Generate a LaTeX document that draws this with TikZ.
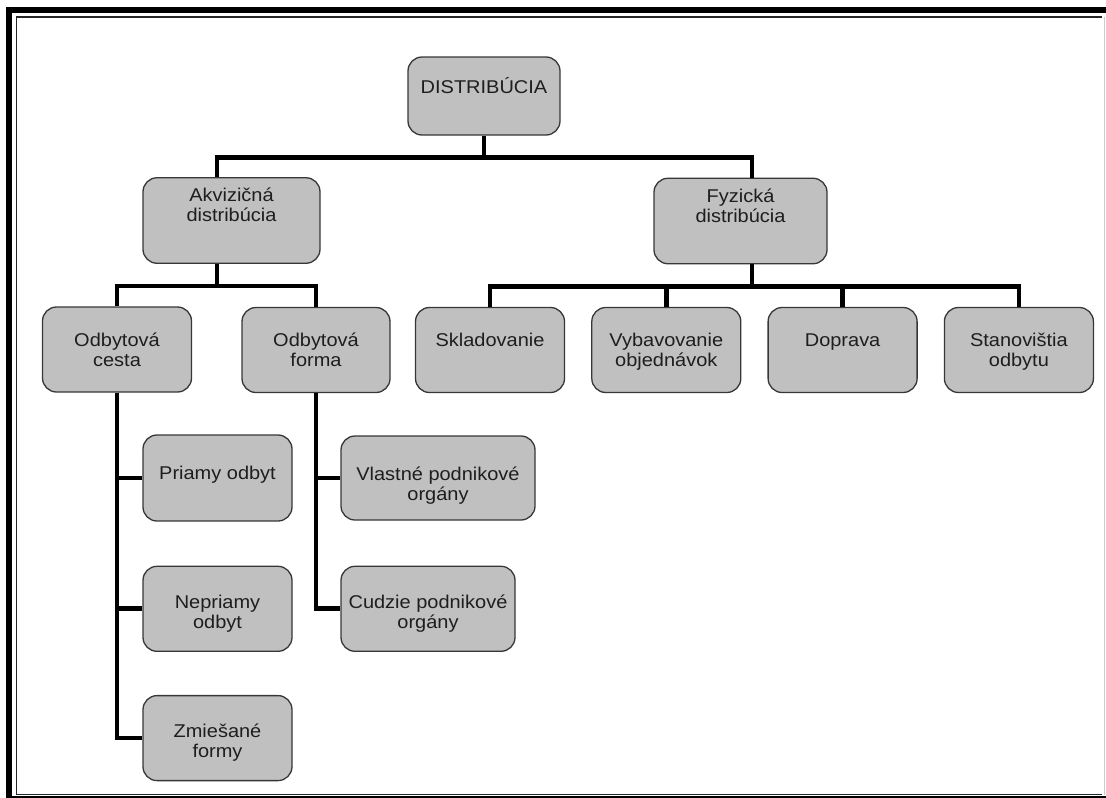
\documentclass[tikz,border=0pt]{standalone}
\usepackage{fontspec}
\setmainfont[FakeStretch=1.08]{Liberation Sans}
\usepackage{xcolor}
\usepackage{tikz}
\usetikzlibrary{positioning, calc}
\definecolor{boxgray}{RGB}{192, 192, 192}
\definecolor{edgegray}{RGB}{55, 55, 55}
\definecolor{textgray}{RGB}{30, 30, 30}
\newcommand{\twoline}[2]{\begin{tabular}[t]{@{}c@{}}#1\\#2\end{tabular}}

\begin{document}
\begin{tikzpicture}[
    x=1pt, y=1pt,
    node distance=26pt,
    itembox/.style={rectangle, rounded corners=14pt, draw=edgegray, line width=1.3pt, fill=boxgray, text=textgray, font=\fontsize{18.5}{20}\selectfont, inner xsep=4pt, inner ysep=0pt, minimum width=149pt, text height=39pt, text depth=46pt},
    distbox/.style={itembox, minimum width=152pt, text height=36pt, text depth=42pt},
    groupbox/.style={itembox, text height=24pt, text depth=61.5pt},
    leafbox/.style={itembox, text height=42pt, text depth=43pt},
    conn/.style={line width=4.7pt, black}
]

    \useasboundingbox (0,0) rectangle (1106,-798);
    \clip (0,0) rectangle (1106,-798);
    \draw[line width=6.5pt] (1106,-10) -- (9,-10) -- (9,-799.5) -- (1106,-799.5);
    \draw[line width=1.5pt, black!85] (1102,-17) -- (16.5,-17) -- (16.5,-794.5) -- (1102,-794.5);
    \draw[line width=0.8pt, black!20] (1104,-17) -- (1104,-794.5);

    \node[distbox] (dist) at (484,-96) {DISTRIBÚCIA};
    \node[groupbox, minimum width=177pt] (akv) at (231.5,-220.5) {\twoline{Akvizičná}{distribúcia}};
    \node[groupbox, minimum width=173pt] (fyz) at (740.5,-221) {\twoline{Fyzická}{distribúcia}};

    \node[itembox] (cesta) at (117,-349.5) {\twoline{Odbytová}{cesta}};
    \node[itembox, minimum width=148pt] (forma) at (316,-350) {\twoline{Odbytová}{forma}};
    \node[itembox] (sklad) at (490,-350) {Skladovanie};
    \node[itembox, right=of sklad] (vybav) {\twoline{Vybavovanie}{objednávok}};
    \node[itembox, right=of vybav] (doprava) {Doprava};
    \node[itembox, right=of doprava] (stanov) {\twoline{Stanovištia}{odbytu}};

    \node[leafbox, text height=44pt, text depth=42pt] (priamy) at (217.5,-478) {Priamy odbyt};
    \node[leafbox, below=44pt of priamy] (nepriamy) {\twoline{Nepriamy}{odbyt}};
    \node[leafbox, below=43pt of nepriamy] (zmies) {\twoline{Zmiešané}{formy}};
    \node[leafbox, minimum width=194pt, text height=44pt, text depth=40pt] (vlastne) at (438,-478) {\twoline{Vlastné podnikové}{orgány}};
    \node[leafbox, minimum width=174pt, below right=45pt and 0pt of vlastne.south west] (cudzie) {\twoline{Cudzie podnikové}{orgány}};

    \draw[conn] (dist.south) -- ++(0,-22) -| ([xshift=-14.5pt]akv.north);
    \draw[conn] (dist.south) -- ++(0,-22) -| ([xshift=11.5pt]fyz.north);
    \draw[conn] ([xshift=-14.5pt]akv.south) -- ++(0,-22) -| (cesta.north);
    \draw[conn] ([xshift=-14.5pt]akv.south) -- ++(0,-22) -| (forma.north);
    \draw[conn] ([xshift=11.5pt]fyz.south) -- ++(0,-22) -| (sklad.north);
    \draw[conn] ([xshift=11.5pt]fyz.south) -- ++(0,-22) -| (vybav.north);
    \draw[conn] ([xshift=11.5pt]fyz.south) -- ++(0,-22) -| (doprava.north);
    \draw[conn] ([xshift=11.5pt]fyz.south) -- ++(0,-22) -| (stanov.north);
    \draw[conn] (cesta.south) |- (priamy.west);
    \draw[conn] (cesta.south) |- (nepriamy.west);
    \draw[conn] (cesta.south) |- (zmies.west);
    \draw[conn] (forma.south) |- (vlastne.west);
    \draw[conn] (forma.south) |- (cudzie.west);

\end{tikzpicture}
\end{document}
